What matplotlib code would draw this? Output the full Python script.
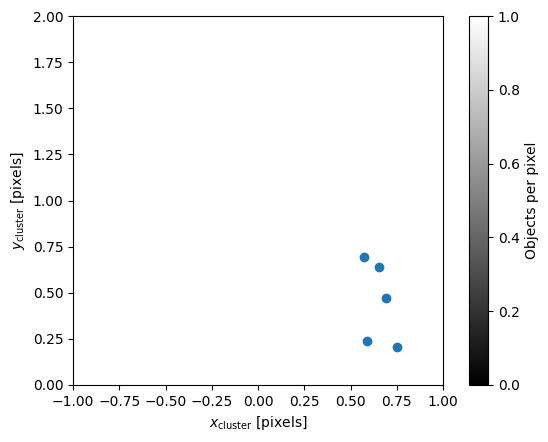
import numpy as np
import matplotlib
matplotlib.use("Agg")
import matplotlib.pyplot as plt

# cluster positions
x_cluster = [0.573, 0.654, 0.692, 0.589, 0.751]
y_cluster = [0.694, 0.640, 0.472, 0.238, 0.206]

x_lim = (-1, 1)
y_lim = (0, 2)

fig = plt.figure(figsize=(5.48, 4.42), dpi=100)
ax = fig.add_axes([73 / 548, 1 - 385 / 442, 370 / 548, 369 / 442])
cax = fig.add_axes([469 / 548, 1 - 385 / 442, 19 / 548, 369 / 442])

# empty density image (no objects), just to drive the colorbar
im = ax.imshow(np.full((2, 2), np.nan), cmap="gray", vmin=0, vmax=1,
               extent=[x_lim[0], x_lim[1], y_lim[0], y_lim[1]], origin="lower")
ax.scatter(x_cluster, y_cluster)

ax.set_xlim(*x_lim)
ax.set_ylim(*y_lim)
ax.set_aspect("auto")
ax.set_xlabel(r"$x_{\rm cluster}$ [pixels]")
ax.set_ylabel(r"$y_{\rm cluster}$ [pixels]")

cb = fig.colorbar(im, cax=cax)
cb.set_label("Objects per pixel")

fig.savefig("out.png", dpi=100)
